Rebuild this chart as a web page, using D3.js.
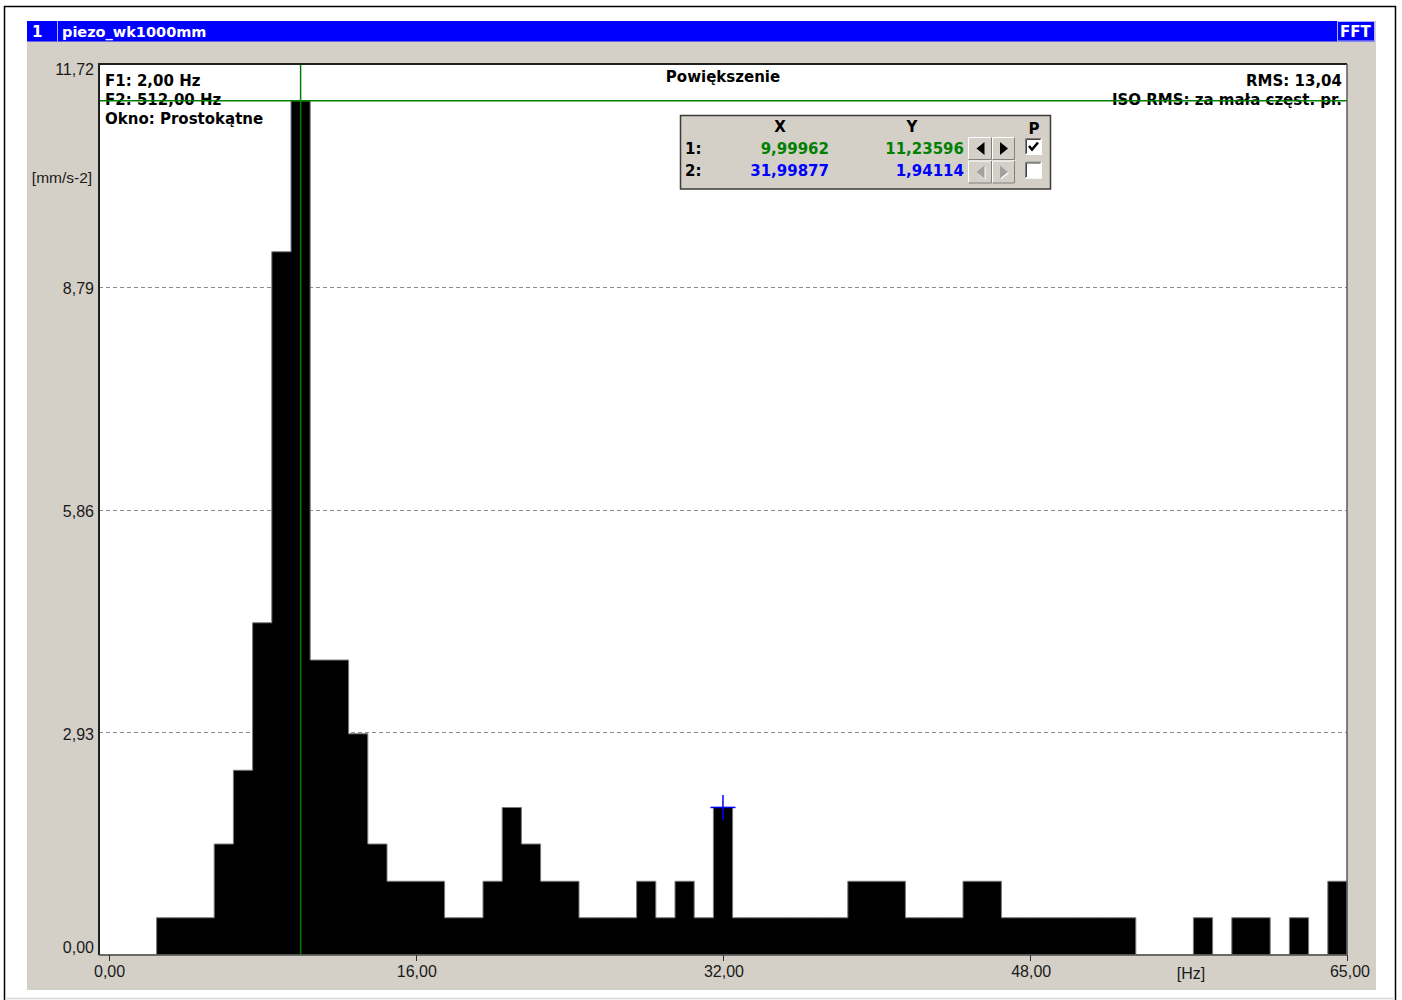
<!DOCTYPE html>
<html>
<head>
<meta charset="utf-8">
<script src="https://cdn.jsdelivr.net/npm/d3@7/dist/d3.min.js"></script>
<style>
  html, body { margin: 0; padding: 0; background: #ffffff; }
  svg { display: block; }
  .ui { font-family: "DejaVu Sans", sans-serif; font-weight: bold; font-size: 15px; }
  .ax { font-family: "Liberation Sans", Arial, sans-serif; font-size: 16px; fill: #1a1a1a; }
</style>
</head>
<body>
<svg id="chart" width="1402" height="1000"></svg>
<script>
// FFT spectrum, 1 Hz bins
const binHz = [0,1,2,3,4,5,6,7,8,9,10,11,12,13,14,15,16,17,18,19,20,21,22,23,24,25,26,27,28,29,30,31,32,
               33,34,35,36,37,38,39,40,41,42,43,44,45,46,47,48,49,50,51,52,53,54,55,56,57,58,59,60,61,62,63,64];
const amplitude = [0,0,0,0.49,0.49,0.49,1.46,2.43,4.37,9.25,11.23596,3.88,3.88,2.91,1.46,0.97,0.97,0.97,0.49,0.49,
                   0.97,1.94,1.46,0.97,0.97,0.49,0.49,0.49,0.97,0.49,0.97,0.49,1.94114,
                   0.49,0.49,0.49,0.49,0.49,0.49,0.97,0.97,0.97,0.49,0.49,0.49,0.97,0.97,
                   0.49,0.49,0.49,0.49,0.49,0.49,0.49,0,0,0,0.49,0,0.49,0.49,0,0.49,0,0.97];

const yTickValues = [0, 2.93, 5.86, 8.79, 11.72];
const yTickLabels = ["0,00", "2,93", "5,86", "8,79", "11,72"];
const xTickValues = [0, 16, 32, 48, 64.5];
const xTickLabels = ["0,00", "16,00", "32,00", "48,00", "65,00"];

// cursors: [frequency, amplitude]
const cursor1 = [9.99962, 11.23596];
const cursor2 = [31.99877, 1.94114];
const cursorRows = [
  { label: "1:", x: "9,99962", y: "11,23596", color: "#008000", active: true, checked: true },
  { label: "2:", x: "31,99877", y: "1,94114", color: "#0000ff", active: false, checked: false }
];

const infoLeft = ["F1: 2,00 Hz", "F2: 512,00 Hz", "Okno: Prostokątne"];
const infoRight = ["RMS: 13,04", "ISO RMS: za mała częst. pr."];

const svg = d3.select("#chart");
const panelColor = "#d4d0c8";

// outer frame
svg.append("rect").attr("x", 4.5).attr("y", 6.5).attr("width", 1391).attr("height", 1000)
  .attr("fill", "#ffffff").attr("stroke", "#000").attr("stroke-width", 1.5);
svg.append("line").attr("x1", 5).attr("x2", 1395).attr("y1", 998.5).attr("y2", 998.5)
  .attr("stroke", "#d8d8d8").attr("stroke-width", 1.5);

// window panel
svg.append("rect").attr("x", 27).attr("y", 21).attr("width", 1349).attr("height", 969).attr("fill", panelColor);

// title bar
svg.append("rect").attr("x", 27).attr("y", 21).attr("width", 1348).attr("height", 20.5).attr("fill", "#0000ff");
svg.append("line").attr("x1", 57.5).attr("x2", 57.5).attr("y1", 21).attr("y2", 41.5)
  .attr("stroke", "#b0b0ff").attr("stroke-width", 1);
svg.append("text").attr("class", "ui").attr("x", 32).attr("y", 36.5).attr("fill", "#fff").text("1");
svg.append("text").attr("class", "ui").attr("x", 62).attr("y", 36.5).attr("fill", "#fff")
  .style("font-size", "14.5px").text("piezo_wk1000mm");
svg.append("rect").attr("x", 1337.5).attr("y", 21.5).attr("width", 37).attr("height", 19.5)
  .attr("fill", "#0000ff").attr("stroke", "#b0b0ff").attr("stroke-width", 1);
svg.append("text").attr("class", "ui").attr("x", 1340).attr("y", 36.5).attr("fill", "#fff").text("FFT");

// plot area
const plot = { left: 99, right: 1347, top: 64, bottom: 955 };
const x = d3.scaleLinear().domain([-0.5, 64.5]).range([plot.left, plot.right]);
const y = d3.scaleLinear().domain([0, 11.72]).range([plot.bottom, plot.top]);

svg.append("rect").attr("x", plot.left).attr("y", plot.top)
  .attr("width", plot.right - plot.left).attr("height", plot.bottom - plot.top).attr("fill", "#ffffff");

// dashed grid
svg.append("g").selectAll("line").data(yTickValues.slice(1, 4)).join("line")
  .attr("x1", plot.left).attr("x2", plot.right)
  .attr("y1", d => Math.round(y(d)) + 0.5).attr("y2", d => Math.round(y(d)) + 0.5)
  .attr("stroke", "#8c8c8c").attr("stroke-width", 1).attr("stroke-dasharray", "4,3");

// spectrum as a stepped area
const stepPoints = binHz.map((f, i) => ({ f: f - 0.5, v: amplitude[i] }));
stepPoints.push({ f: binHz[binHz.length - 1] + 0.5, v: amplitude[amplitude.length - 1] });
const area = d3.area().curve(d3.curveStepAfter)
  .x(d => x(d.f)).y0(y(0)).y1(d => y(d.v));
svg.append("path").datum(stepPoints).attr("d", area)
  .attr("fill", "#000").attr("stroke", "#7a7a7a").attr("stroke-width", 1);

// info texts
svg.append("g").selectAll("text").data(infoLeft).join("text")
  .attr("class", "ui").attr("x", 105).attr("y", (d, i) => 86 + i * 18.8).attr("fill", "#000").text(d => d);
svg.append("g").selectAll("text").data(infoRight).join("text")
  .attr("class", "ui").attr("x", 1342).attr("y", (d, i) => 86 + i * 18.8).attr("text-anchor", "end")
  .attr("fill", "#000").text(d => d);
svg.append("text").attr("class", "ui").attr("x", 723).attr("y", 82).attr("text-anchor", "middle")
  .attr("fill", "#000").text("Powiększenie");

// cursor 1 (green cross-hair)
svg.append("line").attr("x1", plot.left).attr("x2", plot.right)
  .attr("y1", y(cursor1[1])).attr("y2", y(cursor1[1])).attr("stroke", "#008000").attr("stroke-width", 1.5);
svg.append("line").attr("x1", x(cursor1[0])).attr("x2", x(cursor1[0]))
  .attr("y1", plot.top).attr("y2", plot.bottom).attr("stroke", "#008000").attr("stroke-width", 1.5);

// cursor 2 (blue cross)
svg.append("line").attr("x1", x(cursor2[0]) - 12.5).attr("x2", x(cursor2[0]) + 12.5)
  .attr("y1", y(cursor2[1])).attr("y2", y(cursor2[1])).attr("stroke", "#0000ff").attr("stroke-width", 1.5);
svg.append("line").attr("x1", x(cursor2[0])).attr("x2", x(cursor2[0]))
  .attr("y1", y(cursor2[1]) - 12.5).attr("y2", y(cursor2[1]) + 12.5).attr("stroke", "#0000ff").attr("stroke-width", 1.5);

// plot border
svg.append("path").attr("d", `M${plot.left},${plot.bottom} V${plot.top} H${plot.right}`)
  .attr("fill", "none").attr("stroke", "#202020").attr("stroke-width", 2);
svg.append("path").attr("d", `M${plot.right},${plot.top} V${plot.bottom} H${plot.left}`)
  .attr("fill", "none").attr("stroke", "#5a5a5a").attr("stroke-width", 1.5);

// y labels
svg.append("g").selectAll("text").data(yTickValues).join("text")
  .attr("class", "ax").attr("x", 94).attr("text-anchor", "end")
  .attr("y", (d, i) => i === 0 ? 953 : (i === yTickValues.length - 1 ? 74.5 : y(d) + 7.5))
  .text((d, i) => yTickLabels[i]);
svg.append("text").attr("class", "ax").attr("x", 62).attr("y", 183).attr("text-anchor", "middle")
  .style("font-size", "15.5px").text("[mm/s-2]");

// x axis ticks and labels
svg.append("g").selectAll("line").data(xTickValues).join("line")
  .attr("x1", d => Math.round(x(d)) + 0.5).attr("x2", d => Math.round(x(d)) + 0.5)
  .attr("y1", plot.bottom).attr("y2", plot.bottom + 6).attr("stroke", "#303030").attr("stroke-width", 1);
svg.append("g").selectAll("text").data(xTickValues).join("text")
  .attr("class", "ax").attr("x", (d, i) => x(d) + (i === xTickValues.length - 1 ? 3 : 1))
  .attr("y", 977).attr("text-anchor", "middle").text((d, i) => xTickLabels[i]);
svg.append("text").attr("class", "ax").attr("x", 1191).attr("y", 979).attr("text-anchor", "middle").text("[Hz]");

// cursor readout box
const box = svg.append("g");
box.append("rect").attr("x", 680.5).attr("y", 115.5).attr("width", 370).attr("height", 73.5)
  .attr("fill", panelColor).attr("stroke", "#3a3a3a").attr("stroke-width", 1.5);
box.append("text").attr("class", "ui").attr("x", 780).attr("y", 131.5).attr("text-anchor", "middle").text("X");
box.append("text").attr("class", "ui").attr("x", 912).attr("y", 131.5).attr("text-anchor", "middle").text("Y");
box.append("text").attr("class", "ui").attr("x", 1034).attr("y", 134).attr("text-anchor", "middle").text("P");

cursorRows.forEach((r, i) => {
  const base = 153.5 + i * 22.5;
  const top = 137 + i * 23.5;
  box.append("text").attr("class", "ui").attr("x", 685).attr("y", base).attr("fill", "#000").text(r.label);
  box.append("text").attr("class", "ui").attr("x", 829).attr("y", base).attr("text-anchor", "end")
    .attr("fill", r.color).text(r.x);
  box.append("text").attr("class", "ui").attr("x", 964).attr("y", base).attr("text-anchor", "end")
    .attr("fill", r.color).text(r.y);

  // arrow buttons
  [[968, 24, -1], [992, 23, 1]].forEach(([bx, bw, dir]) => {
    const bh = 23;
    box.append("rect").attr("x", bx).attr("y", top).attr("width", bw).attr("height", bh).attr("fill", panelColor);
    box.append("path").attr("d", `M${bx + 0.5},${top + bh - 0.5} V${top + 0.5} H${bx + bw - 0.5}`)
      .attr("fill", "none").attr("stroke", "#ffffff").attr("stroke-width", 1);
    box.append("path").attr("d", `M${bx + 0.5},${top + bh - 0.5} H${bx + bw - 0.5} V${top + 0.5}`)
      .attr("fill", "none").attr("stroke", "#808080").attr("stroke-width", 1);
    const cx = bx + bw / 2 + 0.5, cy = top + bh / 2;
    const pts = dir < 0
      ? `${cx - 4},${cy} ${cx + 4},${cy - 6.5} ${cx + 4},${cy + 6.5}`
      : `${cx + 4},${cy} ${cx - 4},${cy - 6.5} ${cx - 4},${cy + 6.5}`;
    if (!r.active) {
      box.append("polygon").attr("points", pts).attr("transform", "translate(1,1)").attr("fill", "#ffffff");
    }
    box.append("polygon").attr("points", pts).attr("fill", r.active ? "#000" : "#a0a0a0");
  });

  // checkbox
  const cbx = 1025, cby = top + 1;
  box.append("rect").attr("x", cbx).attr("y", cby).attr("width", 17).attr("height", 17).attr("fill", "#fff");
  box.append("path").attr("d", `M${cbx + 0.5},${cby + 16.5} V${cby + 0.5} H${cbx + 16.5}`)
    .attr("fill", "none").attr("stroke", "#808080").attr("stroke-width", 1);
  box.append("path").attr("d", `M${cbx + 1.5},${cby + 15.5} V${cby + 1.5} H${cbx + 15.5}`)
    .attr("fill", "none").attr("stroke", "#404040").attr("stroke-width", 1);
  box.append("path").attr("d", `M${cbx + 0.5},${cby + 16.5} H${cbx + 16.5} V${cby + 0.5}`)
    .attr("fill", "none").attr("stroke", "#ffffff").attr("stroke-width", 1);
  if (r.checked) {
    box.append("polyline").attr("points", `${cbx + 4},${cby + 8} ${cbx + 7},${cby + 11.5} ${cbx + 13},${cby + 4.5}`)
      .attr("fill", "none").attr("stroke", "#000").attr("stroke-width", 2.5);
  }
});
</script>
</body>
</html>
